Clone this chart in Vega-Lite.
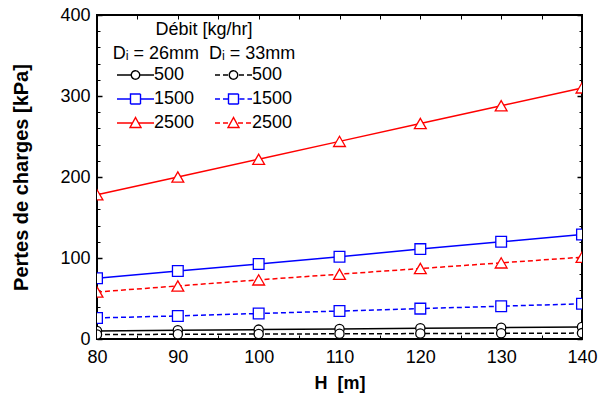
{
  "$schema": "https://vega.github.io/schema/vega-lite/v6.json",
  "width": 485,
  "height": 324,
  "autosize": {"type": "none"},
  "padding": {"left": 97, "top": 15, "right": 28, "bottom": 68},
  "background": "white",
  "config": {
    "font": "Liberation Sans",
    "view": {"stroke": "black", "strokeWidth": 2},
    "axis": {
      "domain": false,
      "grid": false,
      "tickColor": "black",
      "tickSize": -4,
      "tickWidth": 1,
      "labelColor": "black",
      "labelFont": "Liberation Sans",
      "labelFontSize": 18,
      "labelOverlap": false,
      "labelFlush": false,
      "titleFontWeight": "bold",
      "titleColor": "black",
      "titleFont": "Liberation Sans"
    }
  },
  "data": {
    "values": [
      {"H": 80, "P": 10.0, "s": "A500"}, {"H": 90, "P": 10.8, "s": "A500"}, {"H": 100, "P": 11.6, "s": "A500"}, {"H": 110, "P": 12.4, "s": "A500"}, {"H": 120, "P": 13.2, "s": "A500"}, {"H": 130, "P": 14.0, "s": "A500"}, {"H": 140, "P": 14.8, "s": "A500"},
      {"H": 80, "P": 5.5, "s": "B500"}, {"H": 90, "P": 5.8, "s": "B500"}, {"H": 100, "P": 6.1, "s": "B500"}, {"H": 110, "P": 6.4, "s": "B500"}, {"H": 120, "P": 6.7, "s": "B500"}, {"H": 130, "P": 7.0, "s": "B500"}, {"H": 140, "P": 7.3, "s": "B500"},
      {"H": 80, "P": 75, "s": "A1500"}, {"H": 90, "P": 84, "s": "A1500"}, {"H": 100, "P": 92.5, "s": "A1500"}, {"H": 110, "P": 101.5, "s": "A1500"}, {"H": 120, "P": 111, "s": "A1500"}, {"H": 130, "P": 120, "s": "A1500"}, {"H": 140, "P": 129, "s": "A1500"},
      {"H": 80, "P": 26, "s": "B1500"}, {"H": 90, "P": 28.5, "s": "B1500"}, {"H": 100, "P": 31.5, "s": "B1500"}, {"H": 110, "P": 34.5, "s": "B1500"}, {"H": 120, "P": 37.5, "s": "B1500"}, {"H": 130, "P": 40.5, "s": "B1500"}, {"H": 140, "P": 43.5, "s": "B1500"},
      {"H": 80, "P": 178, "s": "A2500"}, {"H": 90, "P": 200, "s": "A2500"}, {"H": 100, "P": 222, "s": "A2500"}, {"H": 110, "P": 244, "s": "A2500"}, {"H": 120, "P": 266, "s": "A2500"}, {"H": 130, "P": 288, "s": "A2500"}, {"H": 140, "P": 310, "s": "A2500"},
      {"H": 80, "P": 58, "s": "B2500"}, {"H": 90, "P": 65.5, "s": "B2500"}, {"H": 100, "P": 73, "s": "B2500"}, {"H": 110, "P": 80, "s": "B2500"}, {"H": 120, "P": 87, "s": "B2500"}, {"H": 130, "P": 94, "s": "B2500"}, {"H": 140, "P": 101, "s": "B2500"}
    ]
  },
  "layer": [
    {
      "layer": [
        {
          "transform": [{"filter": "datum.s == 'A500' || datum.s == 'A1500' || datum.s == 'A2500'"}],
          "mark": {"type": "line", "strokeWidth": 1.5},
          "encoding": {
            "x": {"field": "H", "type": "quantitative", "scale": {"domain": [80, 140], "nice": false, "zero": false},
              "axis": {"orient": "bottom", "values": [80,85,90,95,100,105,110,115,120,125,130,135,140],
                "labelExpr": "datum.value % 10 == 0 ? datum.label : ''",
                "labelOverlap": false, "labelFlush": false, "labelPadding": 13,
                "title": "H\u00a0\u00a0[m]", "titleFontSize": 18, "titlePadding": 8}},
            "y": {"field": "P", "type": "quantitative", "scale": {"domain": [0, 400], "nice": false},
              "axis": {"orient": "left", "values": [0, 100, 200, 300, 400], "tickSize": -5, "tickWidth": 1.5,
                "labelOverlap": false, "labelFlush": false, "labelPadding": 12,
                "title": "Pertes de charges [kPa]", "titleFontSize": 20, "titlePadding": 28}},
            "stroke": {"field": "s", "type": "nominal",
              "scale": {"domain": ["A500", "A1500", "A2500", "B500", "B1500", "B2500"], "range": ["#000000", "#0000ff", "#ff0000", "#000000", "#0000ff", "#ff0000"]},
              "legend": {
                "orient": "none", "legendX": 16, "legendY": 6, "columns": 2, "padding": 0,
                "title": ["Débit [kg/hr]", "Dᵢ = 26mm\u00a0\u00a0Dᵢ = 33mm"],
                "titleFontSize": 18, "titleFontWeight": "normal", "titleColor": "black", "titleFont": "Liberation Sans",
                "titleAnchor": "middle", "titleAlign": "center", "titleLineHeight": 24, "titlePadding": 1, "titleLimit": 400,
                "labelFontSize": 18, "labelColor": "black", "labelFont": "Liberation Sans",
                "labelExpr": "replace(replace(datum.label, 'A', ''), 'B', '')",
                "symbolSize": 400, "symbolStrokeWidth": 1.4, "labelOffset": 16, "columnPadding": 17, "rowPadding": 4,
                "encode": {"symbols": {"update": {
                  "fill": {"value": "white"},
                  "fillOpacity": {"value": 1},
                  "opacity": {"value": 1},
                  "strokeDash": {"value": [1, 0]},
                  "shape": {"signal": "datum.value == 'A500' ? 'M-1,0L0.43,0M1.27,0L2.7,0M1.27,0A0.42,0.42,0,1,1,0.43,0A0.42,0.42,0,1,1,1.27,0Z' : datum.value == 'A1500' ? 'M-1,0L0.35,0M1.35,0L2.7,0M0.35,-0.5L1.35,-0.5L1.35,0.5L0.35,0.5Z' : datum.value == 'A2500' ? 'M-1,0L0.55,0M1.15,0L2.7,0M0.85,-0.55L1.4,0.45L0.3,0.45Z' : datum.value == 'B500' ? 'M-1,0L-0.5,0M-0.2,0L0.3,0M1.4,0L1.9,0M2.2,0L2.7,0M1.27,0A0.42,0.42,0,1,1,0.43,0A0.42,0.42,0,1,1,1.27,0Z' : datum.value == 'B1500' ? 'M-1,0L-0.5,0M-0.2,0L0.3,0M1.45,0L1.95,0M2.25,0L2.7,0M0.35,-0.5L1.35,-0.5L1.35,0.5L0.35,0.5Z' : 'M-1,0L-0.5,0M-0.2,0L0.3,0M1.3,0L1.8,0M2.1,0L2.6,0M0.85,-0.55L1.4,0.45L0.3,0.45Z'"}
                }}}
              }}
          }
        },
        {
          "transform": [{"filter": "datum.s == 'B500' || datum.s == 'B1500' || datum.s == 'B2500'"}],
          "mark": {"type": "line", "strokeWidth": 1.5, "strokeDash": [5, 3]},
          "encoding": {
            "x": {"field": "H", "type": "quantitative"},
            "y": {"field": "P", "type": "quantitative"},
            "stroke": {"field": "s", "type": "nominal", "legend": null}
          }
        },
        {
          "transform": [{"filter": "datum.s == 'A500' || datum.s == 'B500'"}],
          "mark": {"type": "point", "shape": "circle", "filled": true, "fill": "white", "fillOpacity": 1, "opacity": 1, "size": 85, "strokeWidth": 1.3, "clip": true},
          "encoding": {
            "x": {"field": "H", "type": "quantitative"},
            "y": {"field": "P", "type": "quantitative"},
            "stroke": {"field": "s", "type": "nominal", "legend": null}
          }
        },
        {
          "transform": [{"filter": "datum.s == 'A1500' || datum.s == 'B1500'"}],
          "mark": {"type": "point", "shape": "square", "filled": true, "fill": "white", "fillOpacity": 1, "opacity": 1, "size": 115, "strokeWidth": 1.3, "clip": true},
          "encoding": {
            "x": {"field": "H", "type": "quantitative"},
            "y": {"field": "P", "type": "quantitative"},
            "stroke": {"field": "s", "type": "nominal", "legend": null}
          }
        },
        {
          "transform": [{"filter": "datum.s == 'A2500' || datum.s == 'B2500'"}],
          "mark": {"type": "point", "shape": "triangle-up", "filled": true, "fill": "white", "fillOpacity": 1, "opacity": 1, "size": 140, "strokeWidth": 1.3, "clip": true},
          "encoding": {
            "x": {"field": "H", "type": "quantitative"},
            "y": {"field": "P", "type": "quantitative"},
            "stroke": {"field": "s", "type": "nominal", "legend": null}
          }
        }
      ]
    },
    {
      "mark": {"type": "line", "opacity": 0},
      "encoding": {
        "x": {"field": "H", "type": "quantitative",
          "axis": {"orient": "top", "values": [80,85,90,95,100,105,110,115,120,125,130,135,140], "labels": false, "title": null}},
        "y": {"field": "P", "type": "quantitative",
          "axis": {"orient": "right", "values": [0,20,40,60,80,100,120,140,160,180,200,220,240,260,280,300,320,340,360,380,400], "labels": false, "title": null,
            "tickSize": {"condition": {"test": "datum.value % 100 == 0", "value": -5}, "value": -3},
            "tickWidth": {"condition": {"test": "datum.value % 100 == 0", "value": 1.5}, "value": 1}}},
        "detail": {"field": "s", "type": "nominal"}
      }
    },
    {
      "mark": {"type": "line", "opacity": 0},
      "encoding": {
        "x": {"field": "H", "type": "quantitative", "axis": null},
        "y": {"field": "P", "type": "quantitative",
          "axis": {"orient": "left", "values": [0,20,40,60,80,100,120,140,160,180,200,220,240,260,280,300,320,340,360,380,400], "labels": false, "title": null, "tickSize": -3}},
        "detail": {"field": "s", "type": "nominal"}
      }
    }
  ],
  "resolve": {"axis": {"x": "independent", "y": "independent"}}
}
